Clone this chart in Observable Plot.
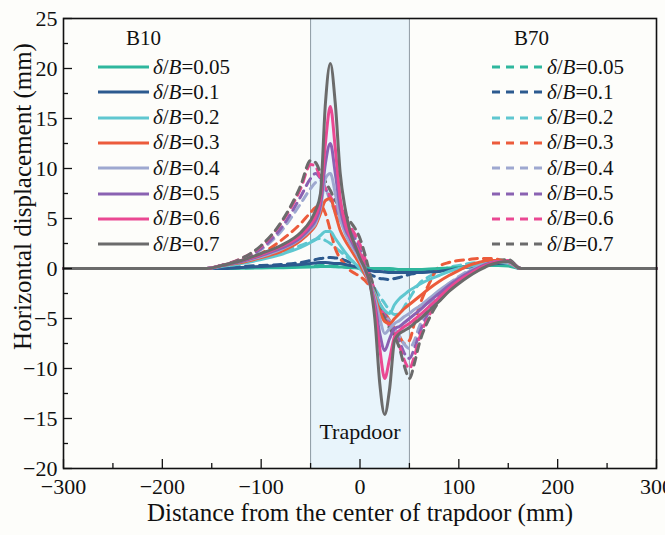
<!DOCTYPE html>
<html><head><meta charset="utf-8">
<script src="https://cdn.jsdelivr.net/npm/d3@7"></script>
<script src="https://cdn.jsdelivr.net/npm/@observablehq/plot@0.6"></script>
<style>
body{margin:0;background:#fdfdfa;}
#wrap{position:relative;width:665px;height:535px;font-family:"Liberation Serif","Times New Roman",serif;color:#111;}
.lg{position:absolute;font-size:21px;line-height:25px;height:25px;white-space:nowrap;display:flex;align-items:center;}
.lg svg{margin-right:3px;}
.ttl{position:absolute;font-size:21px;line-height:25px;}
</style></head>
<body><div id="wrap"></div>
<script>
// Distance from trapdoor centre (mm)
const X = [-300,-155,-140,-120,-100,-80,-60,-50,-45,-40,-35,-30,-25,-20,-15,-10,-5,0,5,10,15,20,25,30,35,40,45,50,55,60,70,80,90,100,110,120,130,140,150,163,300];

// B10 (solid)
const b10_005 = [0,0,0,0.02,0.05,0.08,0.12,0.15,0.17,0.2,0.2,0.2,0.18,0.15,0.12,0.1,0.07,0.05,0.02,0,0,0,0,0,-0.05,-0.1,-0.1,-0.1,-0.1,-0.1,-0.05,0,0.05,0.1,0.15,0.25,0.3,0.3,0.25,0,0];
const b10_01  = [0,0,0,0.1,0.2,0.3,0.4,0.5,0.55,0.6,0.6,0.55,0.5,0.5,0.4,0.3,0.2,0.1,-0.1,-0.2,-0.3,-0.3,-0.35,-0.4,-0.4,-0.4,-0.4,-0.4,-0.4,-0.4,-0.35,-0.3,-0.15,0,0.15,0.3,0.4,0.5,0.5,0,0];
const b10_02  = [0,0,0.2,0.5,0.9,1.4,2.1,2.6,2.9,3.3,3.7,3.7,3.0,2.3,1.6,1.0,0.5,0,-0.6,-1.5,-2.5,-3.5,-4.2,-4.5,-3.6,-3.0,-2.6,-2.2,-1.9,-1.6,-1.1,-0.7,-0.3,0,0.2,0.4,0.5,0.6,0.5,0,0];
const b10_03  = [0,0,0.3,0.6,1.1,1.7,2.8,3.7,4.3,5.5,6.8,7.0,5.5,3.8,2.8,2.0,1.2,0.4,-0.6,-1.5,-2.8,-4.3,-5.3,-5.5,-5.0,-4.5,-4.0,-3.6,-3.2,-2.8,-2.0,-1.3,-0.7,-0.2,0.3,0.6,0.8,0.8,0.6,0,0];
const b10_04  = [0,0,0.3,0.7,1.2,1.9,3.0,3.9,4.5,6.0,9.0,9.5,7.5,5.0,3.5,2.5,1.7,0.8,-0.3,-1.5,-3.0,-5.0,-6.5,-6.0,-5.5,-5.2,-4.8,-4.5,-4.1,-3.8,-3.0,-2.2,-1.5,-0.9,-0.3,0.2,0.5,0.7,0.6,0,0];
const b10_05  = [0,0,0.3,0.7,1.3,2.0,3.1,4.1,4.8,6.3,10.5,12.5,9.5,6.0,4.0,3.0,2.0,1.2,0,-1.5,-3.5,-6.5,-8.2,-7.0,-6.0,-5.8,-5.4,-5.0,-4.6,-4.2,-3.3,-2.5,-1.7,-1.0,-0.4,0.1,0.5,0.7,0.7,0,0];
const b10_06  = [0,0,0.3,0.8,1.4,2.2,3.3,4.4,5.2,7.0,12.5,16.2,12.0,7.0,4.5,3.2,2.4,1.5,0,-1.5,-4.0,-8.0,-11.0,-9.0,-6.8,-6.2,-5.8,-5.5,-5.1,-4.7,-3.8,-2.9,-2.0,-1.2,-0.6,0,0.4,0.7,0.7,0,0];
const b10_07  = [0,0,0.3,0.8,1.5,2.3,3.6,4.8,5.8,7.5,16.5,20.5,16.5,9.5,6.0,3.7,2.3,1.0,0,-1.5,-5.0,-11.5,-14.6,-12.0,-7.2,-6.5,-6.2,-5.9,-5.5,-5.1,-4.2,-3.3,-2.3,-1.5,-0.8,-0.2,0.3,0.6,0.7,0,0];

// B70 (dashed)
const b70_005 = [0,0,0,0.05,0.1,0.15,0.2,0.25,0.27,0.3,0.28,0.25,0.22,0.2,0.15,0.1,0.07,0.05,0,-0.05,-0.1,-0.1,-0.15,-0.15,-0.2,-0.2,-0.2,-0.2,-0.2,-0.2,-0.15,-0.1,0,0.1,0.2,0.3,0.4,0.5,0.4,0,0];
const b70_01  = [0,0,0.05,0.2,0.3,0.4,0.6,0.8,0.9,1.0,1.05,1.1,1.05,1.0,0.8,0.6,0.3,0,-0.3,-0.6,-0.8,-1.0,-1.05,-1.1,-1.0,-0.9,-0.75,-0.6,-0.5,-0.4,-0.3,-0.2,-0.05,0.1,0.2,0.3,0.4,0.5,0.4,0,0];
const b70_02  = [0,0,0.2,0.5,1.0,1.6,2.3,2.7,2.9,3.0,2.8,2.5,2.1,1.7,1.3,0.9,0.5,0,-0.6,-1.3,-2.0,-2.8,-3.5,-4.2,-4.6,-4.5,-3.8,-3.0,-2.2,-1.5,-0.8,-0.3,0.1,0.3,0.5,0.6,0.6,0.6,0.5,0,0];
const b70_03  = [0,0,0.2,0.7,1.5,2.8,4.5,5.6,6.1,6.3,5.5,3.8,2.0,1.0,0.4,-0.2,-0.5,-0.8,-1.2,-1.8,-2.6,-3.5,-4.4,-5.2,-6.0,-6.8,-7.5,-7.2,-5.5,-3.8,-1.5,0.2,0.6,0.8,0.9,1.0,1.0,0.9,0.6,0,0];
const b70_04  = [0,0,0.3,0.9,1.9,3.7,6.5,8.0,8.6,8.8,8.0,6.8,5.7,4.8,4.0,3.3,2.5,1.6,0.4,-1.0,-2.3,-3.5,-4.5,-5.3,-6.0,-6.8,-7.6,-8.0,-7.2,-5.8,-3.8,-2.4,-1.5,-0.8,-0.2,0.2,0.6,0.8,0.7,0,0];
const b70_05  = [0,0,0.3,0.9,2.0,4.0,7.2,9.0,9.5,9.0,8.0,7.0,6.0,5.2,4.5,3.8,3.0,2.0,0.7,-0.8,-2.3,-3.6,-4.6,-5.5,-6.3,-7.3,-8.5,-9.0,-8.0,-6.5,-4.3,-2.8,-1.8,-1.0,-0.4,0.1,0.5,0.8,0.8,0,0];
const b70_06  = [0,0,0.3,1.0,2.2,4.5,8.0,10.4,10.2,9.0,8.0,7.2,6.3,5.6,4.9,4.2,3.4,2.4,1.0,-0.7,-2.3,-3.7,-4.8,-5.8,-6.6,-7.8,-9.2,-10.0,-8.8,-7.0,-4.7,-3.0,-2.0,-1.2,-0.5,0,0.4,0.8,0.8,0,0];
const b70_07  = [0,0,0.3,1.0,2.3,4.6,8.3,10.8,10.6,9.6,8.7,7.8,6.8,6.1,5.4,4.7,4.0,3.0,1.4,-0.5,-2.2,-3.8,-5.0,-6.0,-6.8,-8.0,-9.8,-11.0,-9.5,-7.5,-5.0,-3.3,-2.2,-1.4,-0.7,-0.1,0.4,0.8,0.9,0,0];

const ratios = ["0.05","0.1","0.2","0.3","0.4","0.5","0.6","0.7"];
const colors = ["#2fb79d","#2c5a8f","#5fc7d0","#ec5b3b","#9ea8d0","#8a62b2","#ea4892","#6b6b6b"];
const xTicks = [-300,-200,-100,0,100,200,300];
const xMinor = [-250,-150,-50,50,150,250];
const yTicks = [-20,-15,-10,-5,0,5,10,15,20,25];
const yMinor = [-17.5,-12.5,-7.5,-2.5,2.5,7.5,12.5,17.5,22.5];
const trapdoor = [-50, 50];

const B10 = [b10_005,b10_01,b10_02,b10_03,b10_04,b10_05,b10_06,b10_07];
const B70 = [b70_005,b70_01,b70_02,b70_03,b70_04,b70_05,b70_06,b70_07];
const toRows = (sets) => sets.flatMap((arr, k) => arr.map((v, i) => ({x: X[i], y: v, r: ratios[k]})));
const rows10 = toRows(B10), rows70 = toRows(B70);

const W = 665, H = 535, ML = 63, MR = 9, MT = 18, MB = 67;
const innerW = W - ML - MR, innerH = H - MT - MB;
const fmt = d => d < 0 ? "\u2212" + (-d) : String(d);

const chart = Plot.plot({
  width: W, height: H,
  marginLeft: ML, marginRight: MR, marginTop: MT, marginBottom: MB,
  style: {fontFamily: '"Liberation Serif","Times New Roman",serif', background: "#fdfdfa", color: "#111", overflow: "visible"},
  x: {domain: [-300, 300]},
  y: {domain: [-20, 25]},
  color: {domain: ratios, range: colors},
  marks: [
    Plot.rect([trapdoor], {x1: d => d[0], x2: d => d[1], fill: "#e8f4fb"}),
    Plot.ruleX(trapdoor, {stroke: "#8d99a3", strokeWidth: 1}),
    Plot.line(rows70, {x: "x", y: "y", z: "r", stroke: "r", strokeWidth: 3, strokeDasharray: "8,6", curve: "monotone-x"}),
    Plot.line(rows10, {x: "x", y: "y", z: "r", stroke: "r", strokeWidth: 3, curve: "monotone-x"}),
    Plot.tickX(xTicks, {x: d => d, insetTop: innerH - 9, stroke: "#111", strokeWidth: 1.3}),
    Plot.tickX(xMinor, {x: d => d, insetTop: innerH - 5, stroke: "#111", strokeWidth: 1.3}),
    Plot.tickY(yTicks, {y: d => d, insetRight: innerW - 9, stroke: "#111", strokeWidth: 1.3}),
    Plot.tickY(yMinor, {y: d => d, insetRight: innerW - 5, stroke: "#111", strokeWidth: 1.3}),
    Plot.axisX(xTicks, {tickSize: 0, tickPadding: 10, fontSize: 22, label: null, tickFormat: fmt, fill: "#111"}),
    Plot.axisY(yTicks, {tickSize: 0, tickPadding: 6, fontSize: 22, label: null, tickFormat: fmt, fill: "#111"}),
    Plot.frame({stroke: "#111", strokeWidth: 1.6}),
    Plot.text(["Trapdoor"], {x: d3.mean(trapdoor), frameAnchor: "bottom", dy: -30, fontSize: 22, fill: "#111"}),
    Plot.text(["Distance from the center of trapdoor (mm)"], {frameAnchor: "bottom", dy: 52, fontSize: 25, fill: "#111"}),
    Plot.text(["Horizontal displacement (mm)"], {frameAnchor: "left", textAnchor: "middle", rotate: -90, dx: -41, dy: -47, fontSize: 25, fill: "#111"})
  ]
});
const wrap = document.getElementById("wrap");
wrap.appendChild(chart);

// Legends
function addLegend(title, titleLeft, swLeft, dashed) {
  const t = document.createElement("div");
  t.className = "ttl"; t.textContent = title;
  t.style.left = titleLeft + "px"; t.style.top = (38 - 12.5) + "px";
  wrap.appendChild(t);
  ratios.forEach((r, i) => {
    const d = document.createElement("div");
    d.className = "lg";
    d.style.left = swLeft + "px";
    d.style.top = (67 + i * 25.3 - 12.5) + "px";
    d.innerHTML = `<svg width="53" height="8"><line x1="1" y1="4" x2="52" y2="4" stroke="${colors[i]}" stroke-width="3.2" ${dashed ? 'stroke-dasharray="8,6"' : ''}/></svg><span><i>δ</i>/<i>B</i>=${r}</span>`;
    wrap.appendChild(d);
  });
}
addLegend("B10", 126, 97, false);
addLegend("B70", 514, 491, true);
</script>
</body></html>
